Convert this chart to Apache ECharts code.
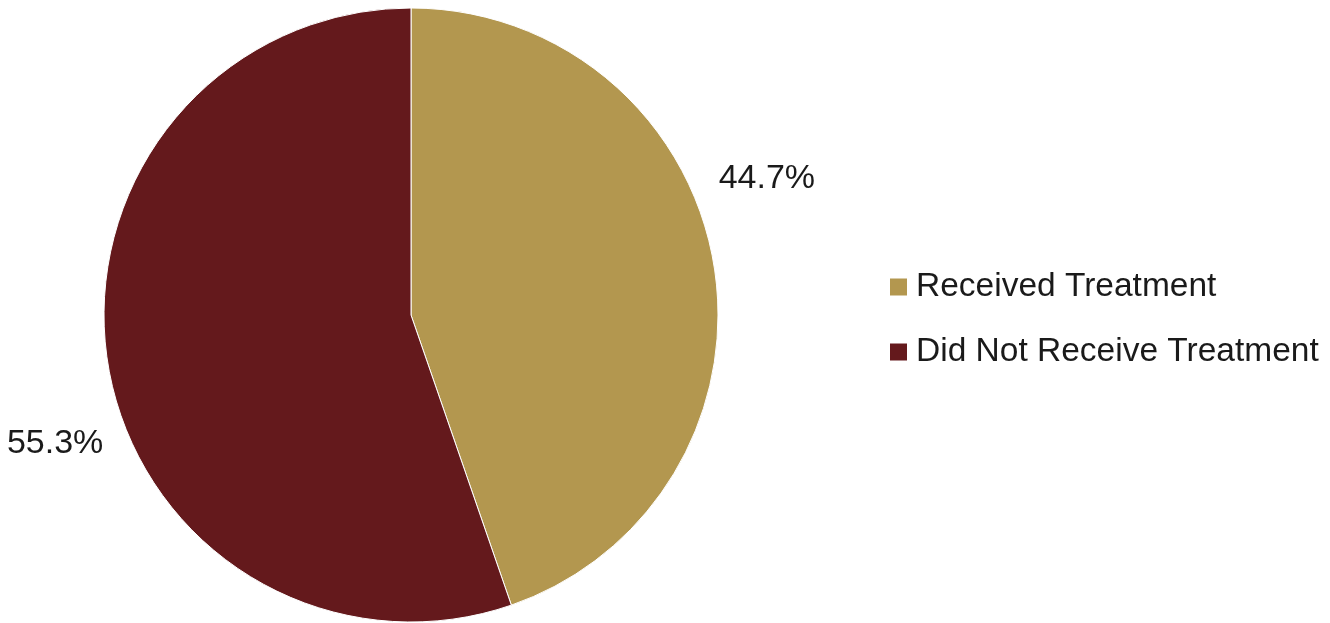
<!DOCTYPE html>
<html>
<head>
<meta charset="utf-8">
<script src="https://cdn.jsdelivr.net/npm/echarts@6/dist/echarts.min.js"></script>
<style>html,body{margin:0;padding:0;background:#fff;}#c{width:1330px;height:623px;}</style>
</head>
<body>
<div id="c"></div>
<script>
const categories = ['Received Treatment', 'Did Not Receive Treatment'];
const values = [44.7, 55.3];
const colors = ['#B3974F', '#64191C'];

const chart = echarts.init(document.getElementById('c'), null, {renderer: 'canvas'});
const FONT = '"Liberation Sans", Arial, sans-serif';
chart.setOption({
  animation: false,
  backgroundColor: '#ffffff',
  color: colors,
  legend: {
    orient: 'vertical',
    left: 883,
    top: 265,
    icon: 'rect',
    itemWidth: 19,
    itemHeight: 19,
    itemGap: 31,
    data: categories,
    textStyle: { fontFamily: FONT, fontSize: 33.5, color: '#1a1a1a', padding: [0, 0, 0, 3] }
  },
  series: [{
    type: 'pie',
    center: [411, 315],
    radius: 307,
    startAngle: 90,
    clockwise: true,
    avoidLabelOverlap: false,
    itemStyle: { borderColor: '#ffffff', borderWidth: 1 },
    label: {
      show: true,
      position: 'outside',
      formatter: p => p.value.toFixed(1) + '%',
      fontFamily: FONT,
      fontSize: 34,
      color: '#1a1a1a'
    },
    labelLine: { show: false, length: 8, length2: 0 },
    labelLayout: p => (p.dataIndex === 0 ? { dx: -8, dy: -84 } : { dx: 8, dy: 76 }),
    data: categories.map((n, i) => ({ name: n, value: values[i] }))
  }]
});
</script>
</body>
</html>
